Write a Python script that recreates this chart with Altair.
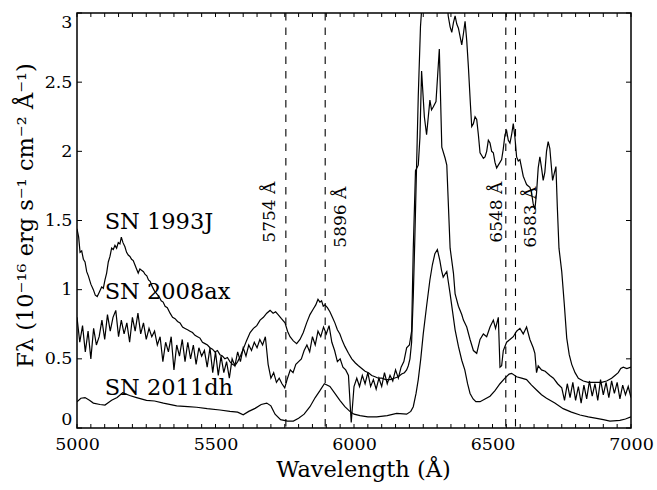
import altair as alt
import pandas as pd

# ---------------- data ----------------
sn93_wl = [5000, 5006, 5011, 5017, 5023, 5029, 5035, 5041, 5050, 5059, 5066, 5073, 5080, 5089, 5095,
           5101, 5107, 5113, 5119, 5125, 5131, 5137, 5143, 5149, 5155, 5160, 5166, 5173, 5179, 5185,
           5191, 5197, 5203, 5209, 5215, 5221, 5227, 5233, 5240, 5246, 5252, 5258, 5264, 5272, 5280,
           5288, 5296, 5304, 5311, 5318, 5326, 5336, 5345, 5354, 5363, 5372, 5381, 5390, 5399, 5408,
           5417, 5426, 5435, 5444, 5453, 5462, 5471, 5480, 5489, 5498, 5507, 5516, 5525, 5534, 5543,
           5552, 5561, 5570, 5580, 5590, 5600, 5612, 5625, 5637, 5649, 5661, 5673, 5685, 5697, 5708,
           5717, 5726, 5738, 5751, 5760, 5769, 5781, 5793, 5805, 5817, 5829, 5841, 5853, 5862, 5870,
           5877, 5883, 5889, 5895, 5904, 5913, 5922, 5931, 5940, 5949, 5958, 5967, 5980, 5992, 6005,
           6016, 6028, 6040, 6052, 6064, 6076, 6088, 6100, 6115, 6130, 6145, 6160, 6172, 6182, 6190,
           6196, 6202, 6208, 6214, 6220, 6226, 6232, 6240, 6250, 6270, 6300, 6330, 6340, 6347, 6353,
           6359, 6365, 6371, 6377, 6383, 6389, 6395, 6401, 6407, 6413, 6420, 6425, 6431, 6437, 6443,
           6449, 6455, 6461, 6467, 6473, 6479, 6485, 6491, 6497, 6503, 6509, 6515, 6521, 6527, 6533,
           6539, 6545, 6551, 6557, 6563, 6569, 6575, 6581, 6587, 6593, 6599, 6605, 6611, 6617, 6623,
           6629, 6635, 6641, 6647, 6653, 6659, 6665, 6671, 6677, 6683, 6689, 6695, 6701, 6707, 6713,
           6717, 6723, 6729, 6734, 6740, 6750, 6759, 6768, 6777, 6786, 6798, 6810, 6828, 6846, 6870,
           6894, 6912, 6930, 6942, 6954, 6963, 6972, 6985, 7000]
sn93_fl = [1.44, 1.38, 1.27, 1.28, 1.22, 1.20, 1.13, 1.10, 1.04, 1.00, 0.96, 0.95, 0.98, 1.02, 1.01,
           1.07, 1.12, 1.20, 1.24, 1.30, 1.29, 1.32, 1.30, 1.34, 1.33, 1.38, 1.34, 1.31, 1.27, 1.25,
           1.24, 1.22, 1.21, 1.18, 1.15, 1.12, 1.15, 1.14, 1.13, 1.11, 1.10, 1.07, 1.06, 1.02, 0.99,
           0.97, 0.95, 0.92, 0.91, 0.88, 0.87, 0.83, 0.80, 0.79, 0.77, 0.76, 0.73, 0.72, 0.71, 0.70,
           0.69, 0.67, 0.66, 0.65, 0.62, 0.61, 0.60, 0.58, 0.57, 0.55, 0.56, 0.53, 0.52, 0.50, 0.51,
           0.48, 0.46, 0.45, 0.48, 0.52, 0.57, 0.63, 0.69, 0.72, 0.74, 0.78, 0.80, 0.83, 0.85, 0.83,
           0.84, 0.82, 0.79, 0.76, 0.70, 0.66, 0.63, 0.61, 0.64, 0.69, 0.76, 0.82, 0.86, 0.89, 0.93,
           0.91, 0.92, 0.88, 0.89, 0.87, 0.84, 0.80, 0.76, 0.71, 0.68, 0.63, 0.59, 0.54, 0.50, 0.47,
           0.45, 0.43, 0.41, 0.40, 0.38, 0.37, 0.36, 0.36, 0.35, 0.35, 0.36, 0.37, 0.39, 0.40, 0.42,
           0.45, 0.50, 0.62, 0.95, 1.40, 1.90, 2.40, 2.90, 3.20, 3.50, 3.60, 3.30, 2.98, 2.90, 2.86,
           2.93, 2.98, 2.92, 2.89, 2.83, 2.77, 2.85, 2.94, 2.80, 2.61, 2.35, 2.18, 2.20, 2.25, 2.23,
           2.12, 1.99, 1.97, 1.95, 1.96, 2.00, 2.08, 2.06, 2.00, 1.99, 1.92, 1.88, 1.90, 1.92, 1.94,
           2.02, 2.12, 2.15, 2.08, 2.06, 2.12, 2.20, 2.10, 1.96, 1.93, 1.94, 1.88, 1.82, 1.79, 1.76,
           1.75, 1.74, 1.70, 1.62, 1.58, 1.70, 1.88, 1.96, 1.88, 1.79, 1.85, 2.00, 2.07, 2.02, 1.88,
           1.79, 1.84, 1.89, 1.60, 1.30, 1.13, 0.90, 0.65, 0.53, 0.46, 0.40, 0.36, 0.34, 0.33, 0.33,
           0.33, 0.34, 0.36, 0.38, 0.40, 0.43, 0.44, 0.43, 0.44]

sn08_wl = list(range(5000, 6200, 10)) + [
    6200, 6208, 6214, 6222, 6232, 6238, 6244, 6254, 6262, 6274, 6280, 6286, 6296, 6308, 6317,
    6329, 6335, 6347, 6359, 6365, 6377, 6389, 6395, 6407, 6419, 6431, 6443, 6455, 6467, 6479,
    6491, 6503, 6511, 6521, 6527, 6533, 6539, 6551, 6563, 6575, 6587, 6599, 6611, 6623, 6635,
    6647, 6653, 6659, 6665, 6677, 6690, 6707, 6720, 6735, 6750, 6760, 6770, 6780, 6790, 6800,
    6810, 6820, 6830, 6840, 6850, 6860, 6870, 6880, 6890, 6900, 6910, 6920, 6930, 6940, 6950,
    6960, 6970, 6980, 6990, 7000]
sn08_fl = [
    0.80, 0.62, 0.74, 0.55, 0.70, 0.50, 0.72, 0.60, 0.66, 0.78,
    0.64, 0.82, 0.70, 0.80, 0.85, 0.66, 0.78, 0.68, 0.76, 0.62,
    0.80, 0.70, 0.83, 0.68, 0.76, 0.64, 0.72, 0.66, 0.70, 0.60,
    0.66, 0.48, 0.62, 0.55, 0.66, 0.42, 0.60, 0.52, 0.64, 0.48,
    0.62, 0.50, 0.60, 0.46, 0.58, 0.52, 0.56, 0.44, 0.58, 0.40,
    0.55, 0.38, 0.52, 0.40, 0.48, 0.36, 0.50, 0.45, 0.55, 0.48,
    0.58, 0.52, 0.60, 0.56, 0.62, 0.58, 0.64, 0.60, 0.66, 0.46,
    0.36, 0.40, 0.33, 0.36, 0.32, 0.29, 0.36, 0.42, 0.40, 0.46,
    0.48, 0.50, 0.56, 0.60, 0.55, 0.66, 0.60, 0.70, 0.66, 0.73,
    0.68, 0.74, 0.62, 0.56, 0.48, 0.50, 0.44, 0.42, 0.38, 0.04,
    0.30, 0.36, 0.30, 0.38, 0.32, 0.40, 0.30, 0.35, 0.28, 0.36,
    0.30, 0.40, 0.32, 0.38, 0.34, 0.42, 0.36, 0.44, 0.48, 0.58,
    0.60, 0.70, 1.30, 1.86, 1.90, 2.10, 2.58, 2.25, 2.12, 2.37, 2.30, 2.32, 2.36, 2.74, 2.03,
    1.95, 1.90, 1.30, 1.12, 0.97, 0.88, 0.82, 0.78, 0.73, 0.64, 0.56, 0.54, 0.64, 0.68, 0.66,
    0.73, 0.78, 0.72, 0.80, 0.44, 0.45, 0.56, 0.62, 0.64, 0.66, 0.70, 0.72, 0.68, 0.73, 0.64,
    0.58, 0.54, 0.40, 0.45, 0.42, 0.41, 0.38, 0.36, 0.32, 0.29, 0.20, 0.32, 0.22, 0.33, 0.20,
    0.30, 0.18, 0.31, 0.21, 0.34, 0.23, 0.32, 0.20, 0.35, 0.24, 0.33, 0.22, 0.34, 0.25, 0.33,
    0.21, 0.31, 0.24, 0.30, 0.22]

sn11_wl = [5000, 5014, 5029, 5045, 5059, 5083, 5101, 5125, 5145, 5165, 5190, 5215, 5251, 5280, 5312,
           5360, 5400, 5432, 5470, 5516, 5552, 5580, 5600, 5620, 5643, 5665, 5685, 5700, 5715, 5735,
           5760, 5781, 5800, 5820, 5841, 5860, 5877, 5893, 5913, 5931, 5949, 5967, 5985, 6000, 6022,
           6050, 6082, 6120, 6154, 6190, 6205, 6214, 6224, 6232, 6241, 6250, 6262, 6274, 6283, 6292,
           6301, 6310, 6316, 6322, 6328, 6335, 6341, 6347, 6356, 6365, 6377, 6389, 6400, 6410, 6419,
           6430, 6440, 6455, 6473, 6491, 6509, 6527, 6545, 6560, 6569, 6587, 6605, 6623, 6641, 6659,
           6677, 6695, 6725, 6755, 6785, 6816, 6846, 6876, 6900, 6924, 6960, 6980, 7000]
sn11_fl = [0.19, 0.215, 0.22, 0.20, 0.18, 0.17, 0.166, 0.20, 0.22, 0.255, 0.235, 0.22, 0.20, 0.195, 0.18,
           0.16, 0.155, 0.15, 0.14, 0.13, 0.12, 0.115, 0.095, 0.12, 0.142, 0.17, 0.18, 0.16, 0.10, 0.06,
           0.05, 0.05, 0.07, 0.10, 0.154, 0.22, 0.27, 0.32, 0.30, 0.25, 0.20, 0.154, 0.12, 0.10, 0.09,
           0.08, 0.08, 0.09, 0.105, 0.10, 0.12, 0.154, 0.25, 0.35, 0.50, 0.68, 0.88, 1.07, 1.18, 1.26,
           1.29, 1.21, 1.14, 1.09, 1.11, 1.13, 1.05, 0.97, 0.84, 0.71, 0.59, 0.49, 0.42, 0.32, 0.25,
           0.21, 0.19, 0.19, 0.21, 0.23, 0.27, 0.32, 0.36, 0.39, 0.395, 0.37, 0.36, 0.35, 0.31, 0.275,
           0.24, 0.215, 0.18, 0.14, 0.115, 0.094, 0.08, 0.07, 0.06, 0.05, 0.055, 0.065, 0.08]

line_wl = [5754, 5896, 6548, 6583]
label_left_wl = [5715, 6534]          # labels set left of their line
label_left_text = ["5754 Å", "6548 Å"]
label_right_wl = [5924, 6611]         # labels set right of their line
label_right_text = ["5896 Å", "6583 Å"]
label_y = 1.56

sn_names = ["SN 1993J", "SN 2008ax", "SN 2011dh"]
sn_label_wl = [5100, 5100, 5100]
sn_label_fl = [1.44, 0.93, 0.24]

x_tick_labels = [5000, 5500, 6000, 6500, 7000]
y_tick_labels = [0, 0.5, 1, 1.5, 2, 2.5, 3]
x_minor = list(range(5000, 7001, 50))

# ---------------- frames ----------------
df = pd.concat([
    pd.DataFrame({"wl": sn93_wl, "fl": sn93_fl, "sn": "SN 1993J"}),
    pd.DataFrame({"wl": sn08_wl, "fl": sn08_fl, "sn": "SN 2008ax"}),
    pd.DataFrame({"wl": sn11_wl, "fl": sn11_fl, "sn": "SN 2011dh"}),
])
lines_df = pd.DataFrame({"wl": line_wl})
left_df = pd.DataFrame({"wl": label_left_wl, "txt": label_left_text, "fl": label_y})
right_df = pd.DataFrame({"wl": label_right_wl, "txt": label_right_text, "fl": label_y})
names_df = pd.DataFrame({"wl": sn_label_wl, "fl": sn_label_fl, "txt": sn_names})
xt_df = pd.DataFrame({"wl": x_minor})
yt_df = pd.DataFrame({"fl": y_tick_labels})

W, H = 554, 415
FONT = "DejaVu Serif"
xs = alt.Scale(domain=[5000, 7000], nice=False, zero=False)
ys = alt.Scale(domain=[0, 3], nice=False, zero=False)

x_axis = alt.Axis(
    values=x_tick_labels, format="d", title="Wavelength (Å)", labelFlush=False,
    labelPadding=7, titleX=286, titleY=48, titleAlign="center",
    titleBaseline="alphabetic", titleAnchor="middle")
y_axis = alt.Axis(
    values=y_tick_labels, format="~g", labelFlush=True, labelPadding=5,
    title="Fλ (10⁻¹⁶ erg s⁻¹ cm⁻² Å⁻¹)", titleAngle=270, titleX=-45, titleY=202,
    titleAlign="center", titleBaseline="alphabetic")


def X(field="wl:Q"):
    return alt.X(field, scale=xs, axis=x_axis)


def Y(field="fl:Q"):
    return alt.Y(field, scale=ys, axis=y_axis)


spectra = alt.Chart(df).mark_line(color="black", strokeWidth=1.2, clip=True).encode(
    x=X(), y=Y(), detail="sn:N")

dashes = alt.Chart(lines_df).mark_rule(color="black", strokeWidth=1.1, strokeDash=[7.5, 7]).encode(
    x=X())

lab_left = alt.Chart(left_df).mark_text(
    angle=270, align="center", baseline="alphabetic", font=FONT, fontSize=17, color="black"
).encode(x=X(), y=Y(), text="txt:N")

lab_right = alt.Chart(right_df).mark_text(
    angle=270, align="center", baseline="top", font=FONT, fontSize=17, color="black", dx=-5
).encode(x=X(), y=Y(), text="txt:N")

names = alt.Chart(names_df).mark_text(
    align="left", baseline="alphabetic", font=FONT, fontSize=22.5, color="black"
).encode(x=X(), y=Y(), text="txt:N")

tick_bottom = alt.Chart(xt_df).mark_rule(color="black", strokeWidth=1).encode(
    x=X(), y=alt.value(H), y2=alt.value(H - 4))
tick_top = alt.Chart(xt_df).mark_rule(color="black", strokeWidth=1).encode(
    x=X(), y=alt.value(0), y2=alt.value(4))
tick_left = alt.Chart(yt_df).mark_rule(color="black", strokeWidth=1).encode(
    y=Y(), x=alt.value(0), x2=alt.value(5))
tick_right = alt.Chart(yt_df).mark_rule(color="black", strokeWidth=1).encode(
    y=Y(), x=alt.value(W), x2=alt.value(W - 5))

chart = alt.layer(
    spectra, dashes, lab_left, lab_right, names, tick_bottom, tick_top, tick_left, tick_right
).properties(
    width=W, height=H,
    autosize=alt.AutoSizeParams(type="none"),
    padding={"left": 77, "top": 13, "right": 26, "bottom": 62},
    background="white",
).configure_view(
    stroke="black", strokeWidth=1.5
).configure_axis(
    domain=False, ticks=False, grid=False,
    labelFont=FONT, labelFontSize=17.5, labelColor="black",
    titleFont=FONT, titleFontSize=22.5, titleColor="black", titleFontWeight="normal",
)

chart.save("out.html", embed_options={"renderer": "svg", "actions": False})
